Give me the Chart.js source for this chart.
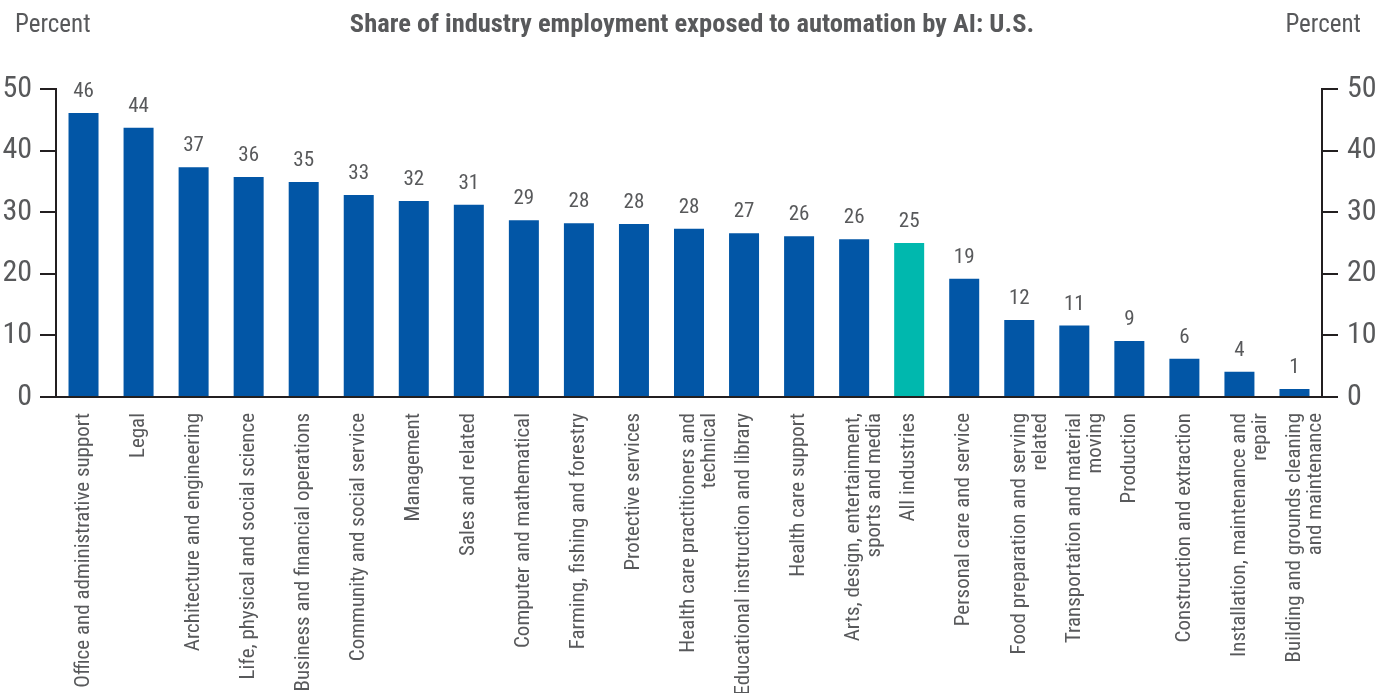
<!DOCTYPE html>
<html>
<head>
<meta charset="utf-8">
<script src="https://cdn.jsdelivr.net/npm/chart.js@4/dist/chart.umd.min.js"></script>
<style>
html,body{margin:0;padding:0;background:#fff;}
#wrap{position:relative;width:1388px;height:693px;}
</style>
</head>
<body>
<div id="wrap"><canvas id="c" width="1388" height="693"></canvas></div>
<script>
const chartTitle = 'Share of industry employment exposed to automation by AI: U.S.';
const unitLabel = 'Percent';
const categories = [
  'Office and administrative support',
  'Legal',
  'Architecture and engineering',
  'Life, physical and social science',
  'Business and financial operations',
  'Community and social service',
  'Management',
  'Sales and related',
  'Computer and mathematical',
  'Farming, fishing and forestry',
  'Protective services',
  ['Health care practitioners and', 'technical'],
  'Educational instruction and library',
  'Health care support',
  ['Arts, design, entertainment,', 'sports and media'],
  'All industries',
  'Personal care and service',
  ['Food preparation and serving', 'related'],
  ['Transportation and material', 'moving'],
  'Production',
  'Construction and extraction',
  ['Installation, maintenance and', 'repair'],
  ['Building and grounds cleaning', 'and maintenance']
];
const values = [46.1, 43.7, 37.3, 35.7, 34.9, 32.8, 31.8, 31.2, 28.7, 28.2, 28.1, 27.3, 26.6, 26.1, 25.6, 25.0, 19.2, 12.5, 11.6, 9.1, 6.2, 4.1, 1.3];
const valueLabels = ['46','44','37','36','35','33','32','31','29','28','28','28','27','26','26','25','19','12','11','9','6','4','1'];
const highlightCategory = 'All industries';
const yTicks = [0, 10, 20, 30, 40, 50];

const FONT = "'Roboto Condensed', 'Liberation Sans Narrow', 'DejaVu Sans Condensed', 'Arial Narrow', sans-serif";
const TEXT = '#58595b';
const AXIS = '#231f20';
const BLUE = '#0256a6';
const TEAL = '#00b8ae';

const barColors = categories.map(c => (c === highlightCategory ? TEAL : BLUE));

const textPlugin = {
  id: 'textPlugin',
  afterDatasetsDraw(chart) {
    const ctx = chart.ctx;
    const meta = chart.getDatasetMeta(0);
    ctx.save();
    ctx.fillStyle = TEXT;
    ctx.textAlign = 'center';
    ctx.textBaseline = 'alphabetic';
    ctx.font = '21px ' + FONT;
    meta.data.forEach((bar, i) => {
      ctx.fillText(valueLabels[i], bar.x, bar.y - 16);
    });
    ctx.restore();
  },
  afterDraw(chart) {
    const ctx = chart.ctx;
    ctx.save();
    ctx.fillStyle = TEXT;
    ctx.textBaseline = 'alphabetic';
    ctx.font = '25px ' + FONT;
    ctx.textAlign = 'left';
    ctx.fillText(unitLabel, 15, 32);
    ctx.textAlign = 'right';
    ctx.fillText(unitLabel, 1361, 32);
    ctx.font = 'bold 26.5px ' + FONT;
    ctx.textAlign = 'center';
    ctx.fillText(chartTitle, 692, 32);
    ctx.restore();
  }
};

const yCommon = {
  min: 0,
  max: 50,
  afterBuildTicks(scale) { scale.ticks = yTicks.map(v => ({ value: v })); },
  grid: { drawOnChartArea: false, drawTicks: true, tickLength: 16, color: AXIS, lineWidth: 2 },
  border: { display: true, color: AXIS, width: 2 },
  ticks: { color: TEXT, font: { family: FONT, size: 30 }, padding: 8 }
};

new Chart(document.getElementById('c'), {
  type: 'bar',
  data: {
    labels: categories,
    datasets: [{
      data: values,
      backgroundColor: barColors,
      borderWidth: 0,
      barPercentage: 0.545,
      categoryPercentage: 1.0
    }]
  },
  options: {
    responsive: false,
    animation: false,
    devicePixelRatio: 1,
    layout: { padding: { top: 89, left: 0, right: 0, bottom: 0 } },
    plugins: { legend: { display: false }, tooltip: { enabled: false }, title: { display: false } },
    scales: {
      x: {
        afterFit(scale) { scale.height = 296; },
        grid: { display: false, drawTicks: false },
        border: { display: true, color: AXIS, width: 2 },
        ticks: {
          color: TEXT,
          font: { family: FONT, size: 21, lineHeight: 1.0 },
          maxRotation: 90,
          minRotation: 90,
          padding: 16,
          autoSkip: false
        }
      },
      y: Object.assign({}, yCommon, {
        position: 'left',
        afterFit(scale) { scale.width = 56; }
      }),
      y2: Object.assign({}, yCommon, {
        position: 'right',
        afterFit(scale) { scale.width = 66; },
        ticks: { color: TEXT, font: { family: FONT, size: 30 }, padding: 9 }
      })
    }
  },
  plugins: [textPlugin]
});
</script>
</body>
</html>
